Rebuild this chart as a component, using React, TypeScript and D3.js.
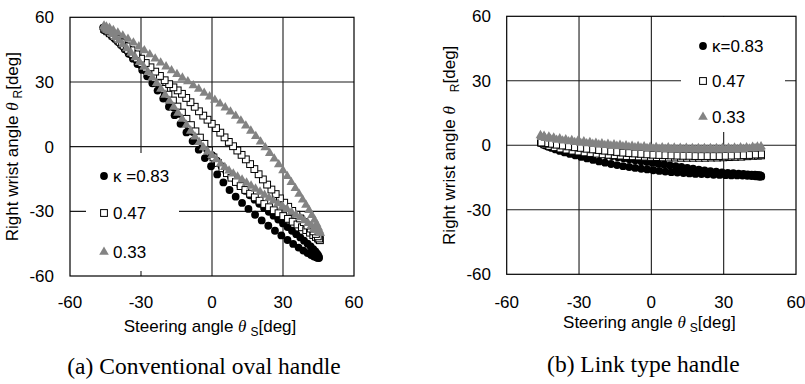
import React from 'react';
import * as d3 from 'd3';

type Pt = [number, number];

const axisTicks = [-60, -30, 0, 30, 60];
const gridTicks = [-30, 0, 30];
const ovalLegend = ['κ =0.83', '0.47', '0.33'];
const linkLegend = ['κ=0.83', '0.47', '0.33'];
const captions = ['(a) Conventional oval handle', '(b) Link type handle'];

// (a) conventional oval handle: steering angle vs right wrist angle, one loop per kappa
const ovalK083: Pt[] = [
  [-46, 55.2], [-45.6, 54.8], [-45.1, 54.3], [-44.4, 53.6], [-43.6, 52.7], [-42.6, 51.7], [-41.4, 50.4], [-40, 48.9],
  [-38.5, 47.1], [-36.9, 45.2], [-35.2, 43.1], [-33.4, 40.8], [-31.5, 38.3], [-29.5, 35.6], [-27.4, 32.6], [-25.2, 29.4],
  [-23, 26], [-20.6, 22.3], [-18.2, 18.5], [-15.8, 14.6], [-13.3, 10.6], [-10.8, 6.6], [-8.2, 2.6], [-5.6, -1.4],
  [-3, -5.3], [-0.4, -9.1], [2.2, -12.9], [4.8, -16.6], [7.4, -20.1], [10, -23.2], [12.7, -26.1], [15.4, -28.9],
  [18.2, -31.6], [21, -34.2], [23.8, -36.7], [26.6, -39], [29.3, -41.2], [31.9, -43.3], [34.3, -45.1], [36.6, -46.8],
  [38.6, -48.2], [40.4, -49.4], [41.9, -50.3], [43.1, -50.9], [44, -51.3], [44.7, -51.6], [45.2, -51.7],
  [45.2, -51.2], [44.9, -50.5], [44.4, -49.6], [43.7, -48.6], [42.8, -47.5], [41.7, -46.3], [40.4, -45], [38.9, -43.6],
  [37.3, -42.1], [35.6, -40.6], [33.8, -39], [31.9, -37.3], [30, -35.6], [28, -33.8], [26, -32], [24, -30.2],
  [22, -28.4], [20, -26.5], [18, -24.6], [16, -22.6], [14, -20.5], [12, -18.3], [10, -16.1], [8, -13.8],
  [6, -11.4], [4, -9], [2, -6.5], [0, -4], [-2, -1.4], [-4, 1.3], [-6, 4], [-8, 6.8], [-10, 9.6], [-12, 12.4],
  [-14, 15.2], [-16, 18.1], [-18, 21], [-20, 23.9], [-22, 26.8], [-24, 29.6], [-26, 32.4], [-28, 35.1], [-30, 37.8],
  [-32, 40.4], [-34, 42.9], [-36, 45.2], [-38, 47.4], [-40, 49.4], [-41.8, 51.2], [-43.3, 52.7], [-44.5, 53.9], [-45.4, 54.8],
];

const ovalK047: Pt[] = [
  [-45.6, 54.6], [-45, 54.2], [-44.2, 53.5], [-43.2, 52.6], [-42, 51.5], [-40.6, 50.2], [-39, 48.6], [-37.3, 46.8],
  [-35.5, 44.9], [-33.6, 42.9], [-31.7, 40.9], [-29.8, 38.8], [-27.9, 36.6], [-26, 34.3], [-24.1, 31.9], [-22.2, 29.4],
  [-20.3, 26.8], [-18.4, 24.1], [-16.5, 21.4], [-14.6, 18.6], [-12.7, 15.8], [-10.8, 12.9], [-8.9, 10], [-7, 7.1],
  [-5.1, 4.2], [-3.2, 1.3], [-1.3, -1.8], [0.6, -5], [2.5, -7.6], [4.4, -10], [6.3, -12.3], [8.2, -14.4], [10.1, -16.4],
  [12.1, -18.3], [14.1, -20.1], [16.1, -21.8], [18.1, -23.5], [20.1, -25.1], [22.1, -26.6], [24.1, -28.1], [26.1, -29.5],
  [28.1, -30.9], [30.1, -32.2], [32.1, -33.5], [34.1, -34.8], [36.1, -36.1], [38, -37.4], [39.8, -38.7], [41.4, -39.9],
  [42.8, -41], [43.9, -41.9], [44.8, -42.6], [45.4, -43.1],
  [45.6, -43.4], [45.3, -42.6], [44.7, -41.6], [43.9, -40.5], [42.9, -39.3], [41.7, -38], [40.3, -36.6], [38.8, -35],
  [37.2, -33.3], [35.6, -31.6], [33.9, -29.8], [32.2, -27.9], [30.5, -26], [28.7, -24], [26.9, -22], [25.1, -19.9],
  [23.3, -17.6], [21.5, -15.2], [19.7, -12.8], [17.9, -10.4], [16.1, -8.1], [14.3, -5.9], [12.5, -3.8], [10.7, -1.8],
  [8.9, 0.2], [7.1, 2.2], [5.3, 4.3], [3.5, 6.5], [1.7, 8.6], [-0.1, 10.6], [-1.9, 12.5], [-3.7, 14.4], [-5.5, 16.4],
  [-7.3, 18.5], [-9.1, 20.6], [-10.9, 22.6], [-12.7, 24.5], [-14.5, 26.1], [-16.3, 27.5], [-18.1, 29], [-20, 30.8],
  [-22, 32.8], [-24, 34.8], [-26, 36.8], [-28, 38.8], [-30, 40.8], [-32, 42.8], [-34, 44.7], [-36, 46.5], [-38, 48.3],
  [-40, 50], [-41.7, 51.5], [-43.1, 52.8], [-44.2, 53.7], [-45, 54.3],
];

const ovalK033: Pt[] = [
  [-45.8, 55.6], [-45.2, 55.1], [-44.4, 54.4], [-43.4, 53.4], [-42.2, 52.2], [-40.8, 50.8], [-39.3, 49.2], [-37.7, 47.4],
  [-36, 45.5], [-34.2, 43.5], [-32.4, 41.4], [-30.6, 39.2], [-28.8, 36.9], [-27, 34.5], [-25.2, 32], [-23.4, 29.4],
  [-21.6, 26.7], [-19.8, 24], [-18, 21.2], [-16.2, 18.4], [-14.4, 15.6], [-12.6, 12.8], [-10.8, 10], [-9, 7.3],
  [-7.2, 4.6], [-5.4, 2], [-3.6, -0.4], [-1.8, -2.3], [0, -4], [1.8, -6], [3.6, -7.9], [5.4, -9.6], [7.2, -11.2],
  [9, -12.6], [10.8, -14], [12.7, -15.4], [14.6, -16.8], [16.5, -18.2], [18.4, -19.6], [20.3, -21], [22.2, -22.4],
  [24.1, -23.8], [26, -25.1], [27.9, -26.4], [29.8, -27.7], [31.7, -29], [33.6, -30.3], [35.5, -31.6], [37.3, -32.9],
  [39, -34.2], [40.6, -35.5], [42, -36.7], [43.2, -37.8], [44.2, -38.7], [45, -39.4], [45.6, -40],
  [45.7, -40], [45.4, -39], [44.9, -37.6], [44.2, -35.9], [43.3, -34], [42.2, -31.8], [41, -29.5], [39.7, -27.1],
  [38.3, -24.6], [36.8, -22], [35.2, -19.3], [33.5, -16.5], [31.8, -13.7], [30, -11], [28.2, -8.3], [26.3, -5.6],
  [24.4, -3], [22.5, -0.4], [20.5, 2.3], [18.5, 4.8], [16.4, 7.3], [14.3, 9.7], [12.2, 12], [10, 14.2], [7.8, 16.2],
  [5.6, 18.1], [3.4, 19.9], [1.2, 21.6], [-1, 23.2], [-3.3, 24.9], [-5.6, 26.7], [-7.9, 28.4], [-10.2, 30.2],
  [-12.5, 31.9], [-14.8, 33.6], [-17.1, 35.3], [-19.4, 37.1], [-21.7, 38.9], [-24, 40.8], [-26.3, 42.7], [-28.6, 44.6],
  [-30.9, 46.4], [-33.2, 48.2], [-35.5, 49.9], [-37.7, 51.4], [-39.8, 52.8], [-41.7, 54], [-43.3, 55], [-44.6, 55.6],
  [-45.6, 56],
];

// (b) link type handle
const linkK083: Pt[] = [
  [-45.8, 1], [-45, 0.5], [-44, -0.1], [-42.8, -0.7], [-41.4, -1.2], [-39.8, -1.9], [-38, -2.6], [-36, -3.3],
  [-33.8, -4], [-31.5, -4.7], [-29.1, -5.4], [-26.7, -6.1], [-24.2, -6.8], [-21.7, -7.5], [-19.2, -8.1], [-16.7, -8.7],
  [-14.2, -9.2], [-11.7, -9.7], [-9.2, -10.1], [-6.7, -10.5], [-4.2, -10.9], [-1.7, -11.2], [0.8, -11.6], [3.3, -11.9],
  [5.8, -12.2], [8.3, -12.5], [10.8, -12.7], [13.3, -12.9], [15.8, -13.1], [18.3, -13.3], [20.8, -13.4], [23.3, -13.5],
  [25.8, -13.7], [28.3, -13.8], [30.8, -13.9], [33.2, -14], [35.6, -14], [37.8, -14.1], [39.8, -14.2], [41.6, -14.3],
  [43.1, -14.4], [44.3, -14.5], [45.1, -14.5], [45.6, -14.6],
  [45.5, -14.1], [45, -13.9], [44.1, -13.8], [43, -13.7], [41.6, -13.6], [40, -13.5], [38.2, -13.3], [36.2, -13.2],
  [34, -13], [31.7, -12.8], [29.3, -12.6], [26.9, -12.3], [24.5, -12], [22.1, -11.7], [19.7, -11.3], [17.3, -10.9],
  [14.9, -10.5], [12.5, -10.1], [10.1, -9.7], [7.7, -9.3], [5.3, -8.9], [2.9, -8.6], [0.5, -8.2], [-1.9, -7.8],
  [-4.3, -7.4], [-6.7, -7], [-9.1, -6.5], [-11.5, -6], [-13.9, -5.5], [-16.3, -5], [-18.7, -4.5], [-21.1, -4],
  [-23.5, -3.5], [-25.9, -3], [-28.3, -2.5], [-30.7, -2], [-33.1, -1.5], [-35.5, -1], [-37.9, -0.5], [-40.2, 0],
  [-42.3, 0.4], [-44, 0.7], [-45.2, 0.9],
];

const linkK047: Pt[] = [
  [-45.8, 1.3], [-44.3, 0.4], [-42.3, -0.3], [-40.1, -0.9], [-37.7, -1.5], [-35.2, -2], [-32.7, -2.5], [-30.2, -2.9],
  [-27.7, -3.3], [-25.2, -3.6], [-22.7, -3.9], [-20.2, -4.2], [-17.7, -4.4], [-15.2, -4.6], [-12.7, -4.8], [-10.2, -5],
  [-7.7, -5.1], [-5.2, -5.2], [-2.7, -5.3], [-0.2, -5.4], [2.3, -5.5], [4.8, -5.6], [7.3, -5.7], [9.8, -5.7],
  [12.3, -5.8], [14.8, -5.8], [17.3, -5.8], [19.8, -5.8], [22.3, -5.8], [24.8, -5.7], [27.3, -5.7], [29.8, -5.6],
  [32.3, -5.5], [34.8, -5.4], [37.3, -5.3], [39.8, -5.1], [42.2, -4.9], [44.2, -4.8], [45.5, -4.7],
  [45.5, -4.2], [43, -4.3], [40.5, -4.5], [38, -4.6], [35.5, -4.7], [33, -4.8], [30.5, -4.9], [28, -5], [25.5, -5],
  [23, -5], [20.5, -5], [18, -5], [15.5, -4.9], [13, -4.9], [10.5, -4.8], [8, -4.7], [5.5, -4.6], [3, -4.5],
  [0.5, -4.4], [-2, -4.2], [-4.5, -4], [-7, -3.8], [-9.5, -3.6], [-12, -3.4], [-14.5, -3.1], [-17, -2.8],
  [-19.5, -2.5], [-22, -2.2], [-24.5, -1.9], [-27, -1.6], [-29.5, -1.2], [-32, -0.9], [-34.5, -0.5], [-37, -0.1],
  [-39.5, 0.3], [-42, 0.7], [-44, 1], [-45.6, 1.3],
];

const linkK033: Pt[] = [
  [-46, 4.6], [-44.5, 4.3], [-42.5, 3.9], [-40.5, 3.5], [-38, 3.1], [-35.5, 2.7], [-33, 2.3], [-30.5, 2], [-28, 1.7],
  [-25.5, 1.4], [-23, 1.1], [-20.5, 0.8], [-18, 0.6], [-15.5, 0.3], [-13, 0.1], [-10.5, -0.1], [-8, -0.3], [-5.5, -0.5],
  [-3, -0.6], [-0.5, -0.8], [2, -0.9], [4.5, -1], [7, -1.1], [9.5, -1.2], [12, -1.3], [14.5, -1.3], [17, -1.4],
  [19.5, -1.4], [22, -1.4], [24.5, -1.4], [27, -1.4], [29.5, -1.3], [32, -1.3], [34.5, -1.2], [37, -1.1], [39.5, -1],
  [42, -0.8], [44, -0.7], [45.5, -0.6],
  [45.3, -1.2], [43, -1.4], [40.7, -1.6], [38.2, -1.8], [35.7, -1.9], [33.2, -2], [30.7, -2.1], [28.2, -2.1],
  [25.7, -2.1], [23.2, -2.1], [20.7, -2.1], [18.2, -2.1], [15.7, -2.1], [13.2, -2], [10.7, -2], [8.2, -1.9], [5.7, -1.8],
  [3.2, -1.7], [0.7, -1.6], [-1.8, -1.4], [-4.3, -1.2], [-6.8, -1], [-9.3, -0.8], [-11.8, -0.6], [-14.3, -0.4],
  [-16.8, -0.2], [-19.3, 0], [-21.8, 0.3], [-24.3, 0.6], [-26.8, 0.8], [-29.3, 1.1], [-31.8, 1.4], [-34.3, 1.8],
  [-36.8, 2.1], [-39.3, 2.5], [-41.8, 2.9], [-44, 3.3], [-45.6, 3.7],
];

type Kind = 'circle' | 'square' | 'triangle';
const kinds: Kind[] = ['circle', 'square', 'triangle'];
const GRAY = '#838383';
const SANS = '"Liberation Sans", Arial, Helvetica, sans-serif';
const SERIF = '"Liberation Serif", "Times New Roman", serif';
const triPath = d3.symbol(d3.symbolTriangle, 40)() || '';

function Marker({ kind, x, y }: { kind: Kind; x: number; y: number }) {
  if (kind === 'circle') return <circle cx={x} cy={y} r={3.9} fill="#000" />;
  if (kind === 'square')
    return <rect x={x - 3.4} y={y - 3.4} width={6.8} height={6.8} fill="#fff" stroke="#000" strokeWidth={1} />;
  return <path d={triPath} transform={`translate(${x},${y})`} fill={GRAY} />;
}

interface PanelProps {
  xRange: [number, number];
  yRange: [number, number];
  series: Pt[][];
  legend: string[];
  legendBox: [number, number, number, number];
  legendX: number;
  legendY: number[];
  yLabelX: number;
  yTitleX: number;
  yTitleGap: number;
  xTitleY: number;
  caption: string;
  captionY: number;
}

function Panel(p: PanelProps) {
  const x = d3.scaleLinear().domain([-60, 60]).range(p.xRange);
  const y = d3.scaleLinear().domain([-60, 60]).range(p.yRange);
  const [xl, xr] = p.xRange;
  const [yb, yt] = p.yRange;
  const cx = (xl + xr) / 2;
  const cy = (yb + yt) / 2;
  const [bx0, by0, bx1, by1] = p.legendBox;
  return (
    <g fontFamily={SANS} fill="#000">
      {gridTicks.map((t) => (
        <g key={`g${t}`} stroke="#1a1a1a" strokeWidth={1.1}>
          <line x1={x(t)} x2={x(t)} y1={yt} y2={yb} />
          <line x1={xl} x2={xr} y1={y(t)} y2={y(t)} />
        </g>
      ))}
      <rect x={bx0} y={by0} width={bx1 - bx0} height={by1 - by0} fill="#fff" />
      {p.series.map((s, i) => (
        <g key={`s${i}`}>
          {s.map((d, j) => (
            <Marker key={j} kind={kinds[i]} x={x(d[0])} y={y(d[1])} />
          ))}
        </g>
      ))}
      <rect x={xl} y={yt} width={xr - xl} height={yb - yt} fill="none" stroke="#000" strokeWidth={1.2} />
      {p.legend.map((label, i) => (
        <g key={`l${i}`}>
          <Marker kind={kinds[i]} x={p.legendX} y={p.legendY[i]} />
          <text x={p.legendX + 9} y={p.legendY[i] + 6} fontSize={17}>
            {label}
          </text>
        </g>
      ))}
      {axisTicks.map((t) => (
        <text key={`y${t}`} x={p.yLabelX} y={y(t) + 6} fontSize={17} textAnchor="end">
          {t}
        </text>
      ))}
      {axisTicks.map((t) => (
        <text key={`x${t}`} x={x(t)} y={308} fontSize={17} textAnchor="middle">
          {t}
        </text>
      ))}
      <text x={cx - 2} y={p.xTitleY} fontSize={17} textAnchor="middle">
        Steering angle{' '}
        <tspan fontFamily={SERIF} fontStyle="italic">
          θ
        </tspan>
        <tspan dx={4} dy={4} fontSize={12}>
          S
        </tspan>
        <tspan dy={-4}>[deg]</tspan>
      </text>
      <text transform={`translate(${p.yTitleX},${cy}) rotate(-90)`} fontSize={17} textAnchor="middle">
        Right wrist angle{' '}
        <tspan fontFamily={SERIF} fontStyle="italic">
          θ
        </tspan>
        <tspan dx={p.yTitleGap} dy={4} fontSize={12}>
          R
        </tspan>
        <tspan dy={-4}>[deg]</tspan>
      </text>
      <text x={cx - 8} y={p.captionY} fontSize={23.5} fontFamily={SERIF} textAnchor="middle">
        {p.caption}
      </text>
    </g>
  );
}

export default function App() {
  return (
    <svg width={805} height={384} style={{ position: 'absolute', left: 0, top: 0, background: '#fff' }}>
      <rect width={805} height={384} fill="#fff" />
      <Panel
        xRange={[70, 354]}
        yRange={[276, 17.3]}
        series={[ovalK083, ovalK047, ovalK033]}
        legend={ovalLegend}
        legendBox={[86, 153, 179, 271]}
        legendX={104}
        legendY={[176, 213, 252]}
        yLabelX={54}
        yTitleX={18}
        yTitleGap={4}
        xTitleY={332}
        caption={captions[0]}
        captionY={374}
      />
      <Panel
        xRange={[506.7, 796]}
        yRange={[274.3, 16.3]}
        series={[linkK083, linkK047, linkK033]}
        legend={linkLegend}
        legendBox={[681, 17, 785, 132]}
        legendX={703}
        legendY={[46, 81, 117]}
        yLabelX={491}
        yTitleX={455}
        yTitleGap={14}
        xTitleY={328}
        caption={captions[1]}
        captionY={372}
      />
    </svg>
  );
}
